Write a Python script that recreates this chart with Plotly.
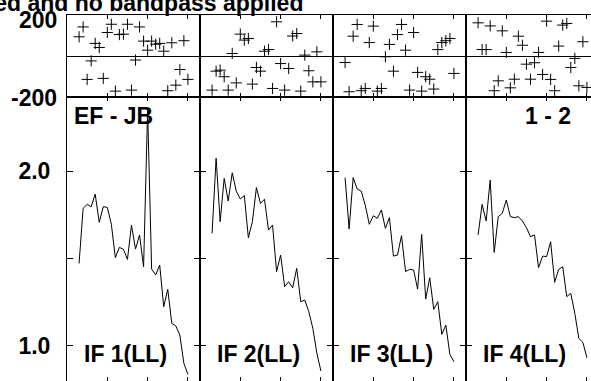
import plotly.graph_objects as go

# ========= DATA =========

TITLE = 'Calibration applied and no bandpass applied'
BASELINE = 'EF - JB'
STOKES = '1 - 2'
IF_NAMES = ['IF 1(LL)', 'IF 2(LL)', 'IF 3(LL)', 'IF 4(LL)']

CHANNELS = [3, 4, 5, 6, 7, 8, 9, 10, 11, 12, 13, 14, 15, 16,
            17, 18, 19, 20, 21, 22, 23, 24, 25, 26, 27, 28, 29, 30]

# phase in degrees, one value per channel
phase_if1 = [94, 142, -113, -23, 62, 42, -108, 115, 155, -170, 105, 107, 155, -165,
             -19, 142, 73, 29, 73, 58, 62, 24, -168, 65, -141, -65, 75, -113]
phase_if2 = [-165, -73, -68, -100, -165, 13, -130, 107, 78, 86, -136, -55, -73, 24,
             32, -157, 167, -36, -165, -60, 98, 110, -170, 5, -71, -125, 21, -125]
phase_if3 = [-31, -173, 97, 154, -168, -157, 66, 146, -170, -157, -3, 57, -73, 105,
             154, 29, -165, 115, -79, -170, -100, -112, -160, 32, 66, 75, 86, -84]
phase_if4 = [162, 32, 32, 147, -168, -120, 123, 18, -154, -112, 97, 53, -39, -112,
             -32, 18, -89, 170, -113, -168, 49, 151, 159, -55, -11, -144, 70, -152]

# amplitude, one value per channel
amp_if1 = [1.471, 1.786, 1.809, 1.796, 1.868, 1.706, 1.796, 1.792, 1.695, 1.504,
           1.563, 1.552, 1.494, 1.691, 1.553, 1.634, 1.452, 2.35, 1.439, 1.405,
           1.462, 1.223, 1.323, 1.128, 1.113, 1.061, 0.899, 0.836]
amp_if2 = [1.643, 2.073, 1.710, 1.958, 1.828, 1.990, 1.885, 1.840, 1.859, 1.618,
           1.710, 1.905, 1.815, 1.838, 1.662, 1.691, 1.424, 1.519, 1.338, 1.366,
           1.332, 1.443, 1.252, 1.261, 1.195, 1.099, 0.956, 0.855]
amp_if3 = [1.962, 1.668, 1.962, 1.897, 1.885, 1.805, 1.695, 1.744, 1.729, 1.777,
           1.672, 1.733, 1.513, 1.519, 1.630, 1.424, 1.437, 1.433, 1.324, 1.637,
           1.267, 1.389, 1.208, 1.252, 1.065, 1.118, 0.950, 0.908]
amp_if4 = [1.634, 1.809, 1.714, 1.948, 1.534, 1.739, 1.758, 1.834, 1.739, 1.733,
           1.739, 1.714, 1.676, 1.624, 1.634, 1.447, 1.513, 1.510, 1.595, 1.363,
           1.437, 1.452, 1.281, 1.300, 1.185, 1.042, 1.019, 0.931]

PHASES = [phase_if1, phase_if2, phase_if3, phase_if4]
AMPS = [amp_if1, amp_if2, amp_if3, amp_if4]

# ========= LAYOUT (pixels) =========

W, H = 591, 381
FONT = 'Liberation Sans, Arial, Helvetica, sans-serif'
PANEL_LEFT = [67, 200, 333, 466]
PANEL_W = 133
PH_TOP, PH_BOT = 15, 97.3
AMP_RANGE = [0.798, 2.422]


def fx(px):
    return px / W


def fy(py):
    return 1 - py / H


fig = go.Figure()
layout = dict(width=W, height=H, margin=dict(l=0, r=0, t=0, b=0),
              paper_bgcolor='white', plot_bgcolor='white', showlegend=False)
annotations = []

axis_common = dict(showgrid=False, showline=True, linecolor='black', linewidth=1,
                   ticks='inside', tickcolor='black', tickwidth=1)

for i in range(4):
    left = PANEL_LEFT[i]
    right = min(left + PANEL_W, W)
    xmax = 33 * (right - left) / PANEL_W
    ph, am = 2 * i + 1, 2 * i + 2
    dom_x = [fx(left), fx(right)]
    edge = i == 3

    # phase panel
    fig.add_trace(go.Scatter(x=CHANNELS, y=PHASES[i], mode='markers',
                             xaxis=f'x{ph}', yaxis=f'y{ph}',
                             marker=dict(symbol='cross-thin', size=8,
                                         line=dict(width=1, color='black'))))
    layout[f'xaxis{ph}'] = dict(axis_common, domain=dom_x, range=[0, xmax],
                                anchor=f'y{ph}', tickvals=[10, 20, 30], ticklen=4,
                                showticklabels=False, zeroline=False, mirror='ticks')
    layout[f'yaxis{ph}'] = dict(axis_common, domain=[fy(PH_BOT), fy(PH_TOP)],
                                range=[-200, 200], anchor=f'x{ph}', tickvals=[],
                                showticklabels=False, zeroline=True,
                                zerolinecolor='black', zerolinewidth=1,
                                mirror=True)

    # amplitude panel
    fig.add_trace(go.Scatter(x=CHANNELS, y=AMPS[i], mode='lines',
                             xaxis=f'x{am}', yaxis=f'y{am}',
                             line=dict(color='black', width=1)))
    layout[f'xaxis{am}'] = dict(axis_common, domain=dom_x, range=[0, xmax],
                                anchor=f'y{am}', tickvals=[10, 20, 30], ticklen=4,
                                showticklabels=False, zeroline=False, mirror='ticks')
    layout[f'yaxis{am}'] = dict(axis_common, domain=[0, fy(PH_BOT)],
                                range=AMP_RANGE, anchor=f'x{am}',
                                tickvals=[1.0, 1.5, 2.0], ticktext=['1.0', '', '2.0'],
                                ticklen=6, zeroline=False,
                                mirror=True if edge else 'ticks',
                                showticklabels=(i == 0), ticklabelstandoff=11,
                                tickfont=dict(family=FONT, size=23, color='black',
                                              weight='bold'))

    annotations.append(dict(text=IF_NAMES[i], x=fx(left + 15), y=fy(354),
                            xanchor='left', yanchor='middle'))

annotations += [
    dict(text=TITLE, x=fx(305), y=fy(3), xanchor='right', yanchor='middle'),
    dict(text='200', x=fx(59), y=fy(19.5), xanchor='right', yanchor='middle'),
    dict(text='-200', x=fx(59), y=fy(97.5), xanchor='right', yanchor='middle'),
    dict(text=BASELINE, x=fx(72), y=fy(116), xanchor='left', yanchor='middle'),
    dict(text=STOKES, x=fx(573), y=fy(116), xanchor='right', yanchor='middle'),
]
bold = dict(family=FONT, size=23, color='black', weight='bold')
for a in annotations:
    a.update(xref='paper', yref='paper', showarrow=False, font=bold)

layout['annotations'] = annotations
fig.update_layout(**layout)

# the page's default 8px body margin would push the plot off the window
fig.write_html('out.html', config={'displayModeBar': False},
               post_script="document.body.style.margin='0';"
                           "document.body.style.overflow='hidden';")
